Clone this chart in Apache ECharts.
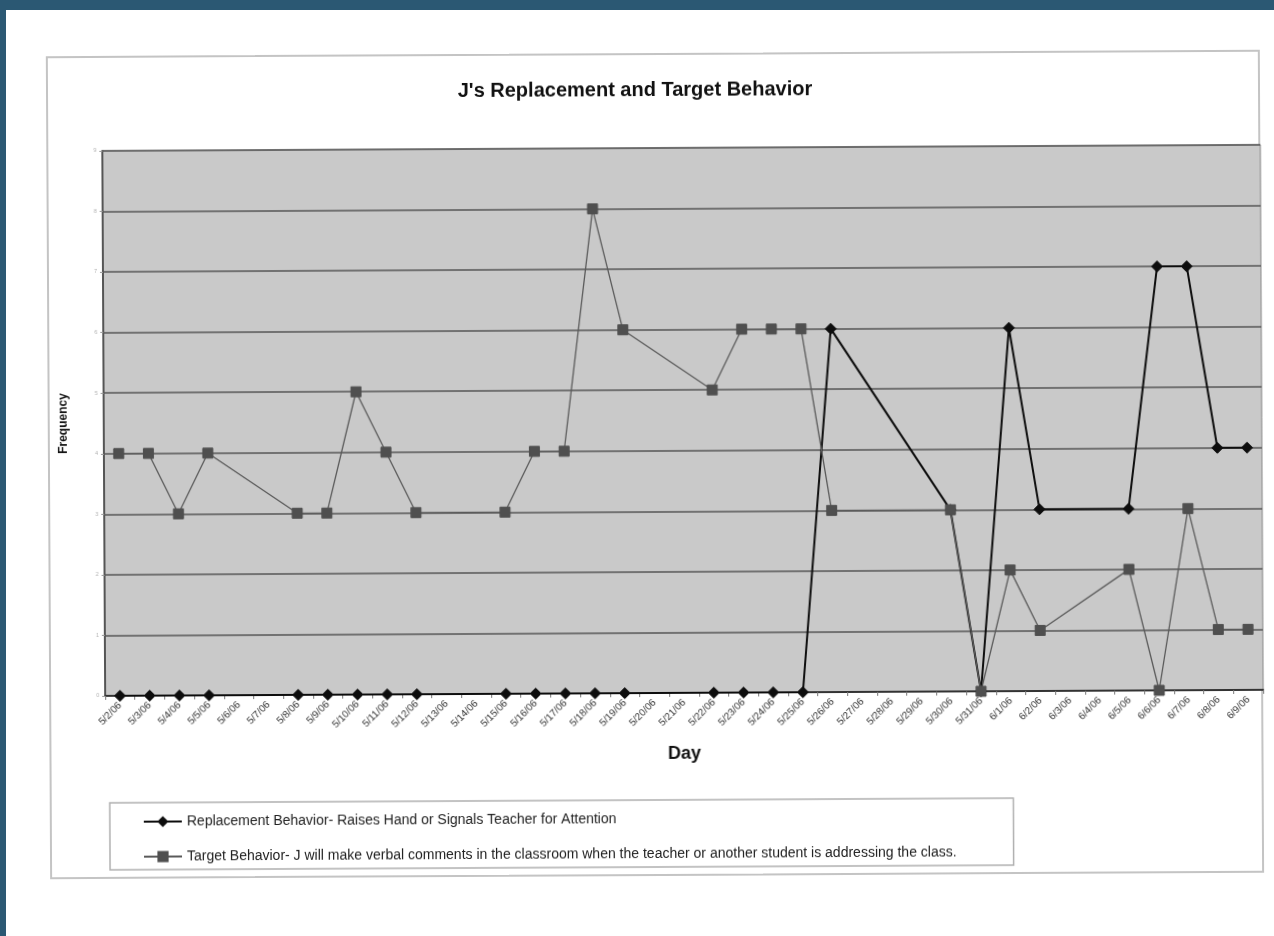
<!DOCTYPE html>
<html>
<head>
<meta charset="utf-8">
<script src="https://cdn.jsdelivr.net/npm/echarts@6/dist/echarts.min.js"></script>
<style>
  html, body { margin: 0; padding: 0; width: 1274px; height: 936px; overflow: hidden; background: #2b5873; }
  #page { position: absolute; left: 6px; top: 10px; width: 1268px; height: 926px; background: #ffffff; }
  #frame { position: absolute; left: 0; top: 0; width: 1274px; height: 936px; transform: rotate(-0.3deg); transform-origin: 655px 470px; }
  #border { position: absolute; left: 48px; top: 53px; width: 1214px; height: 823px; border: 2px solid #c4c4c4; box-sizing: border-box; }
  #chart { position: absolute; left: 0; top: 0; width: 1274px; height: 936px; }
</style>
</head>
<body>
<div id="page"></div>
<div id="frame">
  <div id="border"></div>
  <div id="chart"></div>
</div>
<script>
// Observation days
const days = [
  '5/2/06','5/3/06','5/4/06','5/5/06','5/6/06','5/7/06','5/8/06','5/9/06','5/10/06','5/11/06',
  '5/12/06','5/13/06','5/14/06','5/15/06','5/16/06','5/17/06','5/18/06','5/19/06','5/20/06','5/21/06',
  '5/22/06','5/23/06','5/24/06','5/25/06','5/26/06','5/27/06','5/28/06','5/29/06','5/30/06','5/31/06',
  '6/1/06','6/2/06','6/3/06','6/4/06','6/5/06','6/6/06','6/7/06','6/8/06','6/9/06'
];

// Replacement behavior counts (null = no observation that day)
const replacement = [
  0, 0, 0, 0, null, null, 0, 0, 0, 0,
  0, null, null, 0, 0, 0, 0, 0, null, null,
  0, 0, 0, 0, 6, null, null, null, 3, 0,
  6, 3, null, null, 3, 7, 7, 4, 4
];

// Target behavior counts
const target = [
  4, 4, 3, 4, null, null, 3, 3, 5, 4,
  3, null, null, 3, 4, 4, 8, 6, null, null,
  5, 6, 6, 6, 3, null, null, null, 3, 0,
  2, 1, null, null, 2, 0, 3, 1, 1
];

// Frequency axis ticks
const yTicks = [0, 1, 2, 3, 4, 5, 6, 7, 8, 9];

const replacementName = 'Replacement Behavior- Raises Hand or Signals Teacher for Attention';
const targetName = 'Target Behavior- J will make verbal comments in the classroom when the teacher or another student is addressing the class.';

const chart = echarts.init(document.getElementById('chart'), null, { renderer: 'canvas' });

chart.setOption({
  backgroundColor: 'transparent',
  animation: false,
  textStyle: { fontFamily: 'Liberation Sans, Arial, sans-serif' },
  title: {
    text: "J's Replacement and Target Behavior",
    left: 'center',
    top: 75,
    textStyle: { fontSize: 20, fontWeight: 'bold', color: '#111' }
  },
  grid: {
    left: 104, right: 12, top: 148, bottom: 243,
    show: true, backgroundColor: '#c9c9c9', borderColor: '#8a8a8a', borderWidth: 1
  },
  legend: {
    orient: 'vertical',
    left: 108,
    top: 800,
    padding: [12, 57, 6, 33],
    itemGap: 21,
    itemWidth: 38,
    itemHeight: 14,
    borderColor: '#b0b0b0',
    borderWidth: 1.5,
    textStyle: { fontSize: 14, color: '#222' },
    data: [replacementName, targetName]
  },
  xAxis: {
    type: 'category',
    data: days,
    boundaryGap: true,
    name: 'Day',
    nameLocation: 'middle',
    nameGap: 52,
    nameTextStyle: { fontSize: 18, fontWeight: 'bold', color: '#111' },
    axisLine: { lineStyle: { color: '#333', width: 2 } },
    axisTick: { show: true, inside: false, length: 4, lineStyle: { color: '#777' } },
    axisLabel: { rotate: 45, fontSize: 10, color: '#333', interval: 0, margin: 8 }
  },
  yAxis: {
    type: 'value',
    min: 0,
    max: yTicks[yTicks.length - 1],
    interval: 1,
    name: 'Frequency',
    nameLocation: 'middle',
    nameGap: 34,
    nameRotate: 90,
    nameTextStyle: { fontSize: 12, fontWeight: 'bold', color: '#111' },
    axisLine: { show: true, lineStyle: { color: '#555', width: 2 } },
    axisTick: { show: true, length: 3, lineStyle: { color: '#999' } },
    axisLabel: { fontSize: 5, color: '#aaa', margin: 6 },
    splitLine: { show: true, lineStyle: { color: '#555', width: 1.5 } }
  },
  series: [
    {
      name: targetName,
      type: 'line',
      data: target,
      connectNulls: true,
      symbol: 'rect',
      symbolSize: 10,
      lineStyle: { color: '#5a5a5a', width: 1.3 },
      itemStyle: { color: '#4f4f4f', borderColor: '#4f4f4f' },
      z: 2
    },
    {
      name: replacementName,
      type: 'line',
      data: replacement,
      connectNulls: true,
      symbol: 'diamond',
      symbolSize: 11,
      lineStyle: { color: '#0d0d0d', width: 2 },
      itemStyle: { color: '#0d0d0d', borderColor: '#0d0d0d' },
      z: 1
    }
  ]
});
</script>
</body>
</html>
